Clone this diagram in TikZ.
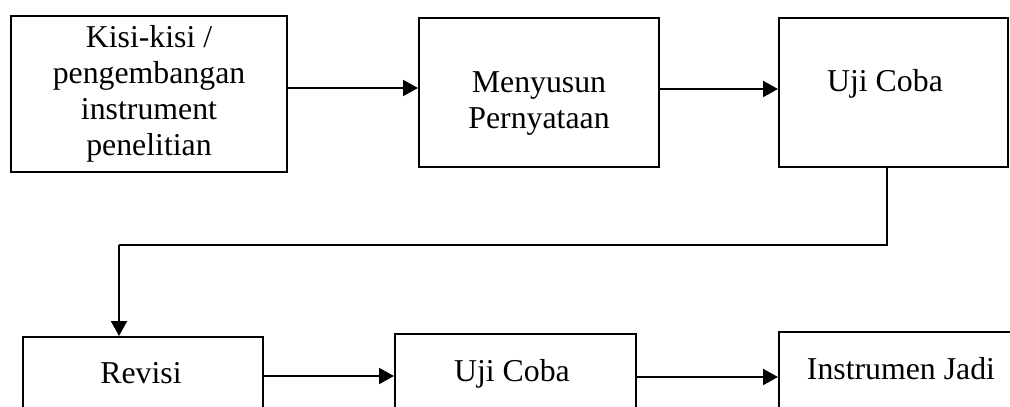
\documentclass[tikz,border=0pt]{standalone}
\usepackage{fontspec}
\setmainfont{Liberation Serif}
\usetikzlibrary{arrows.meta}
\begin{document}
\begin{tikzpicture}[x=1pt,y=-1pt,
  box/.style={draw, line width=2pt, rectangle, inner sep=0pt},
  lbl/.style={font=\fontsize{31.8}{35}\selectfont, anchor=base, inner sep=0pt, align=center},
  arr/.style={line width=2pt, -{Triangle[length=15pt,width=16pt]}},
  ln/.style={line width=2pt}]
\useasboundingbox (0,0) rectangle (1010,407);
\clip (0,0) rectangle (1010,407);
% top row
\node[box, minimum width=276pt, minimum height=156pt] (b1) at (149,94) {};
\node[box, minimum width=240pt, minimum height=149pt] (b2) at (539,92.5) {};
\node[box, minimum width=229pt, minimum height=149pt] (b3) at (893.5,92.5) {};
% bottom row
\node[box, minimum width=240pt, minimum height=110pt] (b4) at (143,392) {};
\node[box, minimum width=241pt, minimum height=110pt] (b5) at (515.5,389) {};
\node[box, minimum width=260pt, minimum height=110pt] (b6) at (909,387) {};
% texts
\node[lbl] (t1a) at (149,47) {Kisi-kisi /};
\node[lbl] (t1b) at (149,83) {pengembangan};
\node[lbl] (t1c) at (149,119) {instrument};
\node[lbl] (t1d) at (149,155) {penelitian};
\node[lbl] (t2a) at (539,92) {Menyusun};
\node[lbl] (t2b) at (539,128) {Pernyataan};
\node[lbl] (t3) at (885,91) {Uji Coba};
\node[lbl] (t4) at (141,383) {Revisi};
\node[lbl] (t5) at (512,381) {Uji Coba};
\node[lbl] (t6) at (901,379) {Instrumen Jadi};
% connectors
\draw[arr] (b1.east |- 0,88) -- (b2.west |- 0,88);
\draw[arr] (b2.east |- 0,89) -- (b3.west |- 0,89);
\coordinate (c1) at (887,245);
\coordinate (c2) at (119,245);
\draw[ln] (b3.south -| c1) -- (c1) -- (c2);
\draw[arr] (c2) -- (b4.north -| c2);
\draw[arr] (b4.east |- 0,376) -- (b5.west |- 0,376);
\draw[arr] (b5.east |- 0,377) -- (b6.west |- 0,377);
\end{tikzpicture}
\end{document}
